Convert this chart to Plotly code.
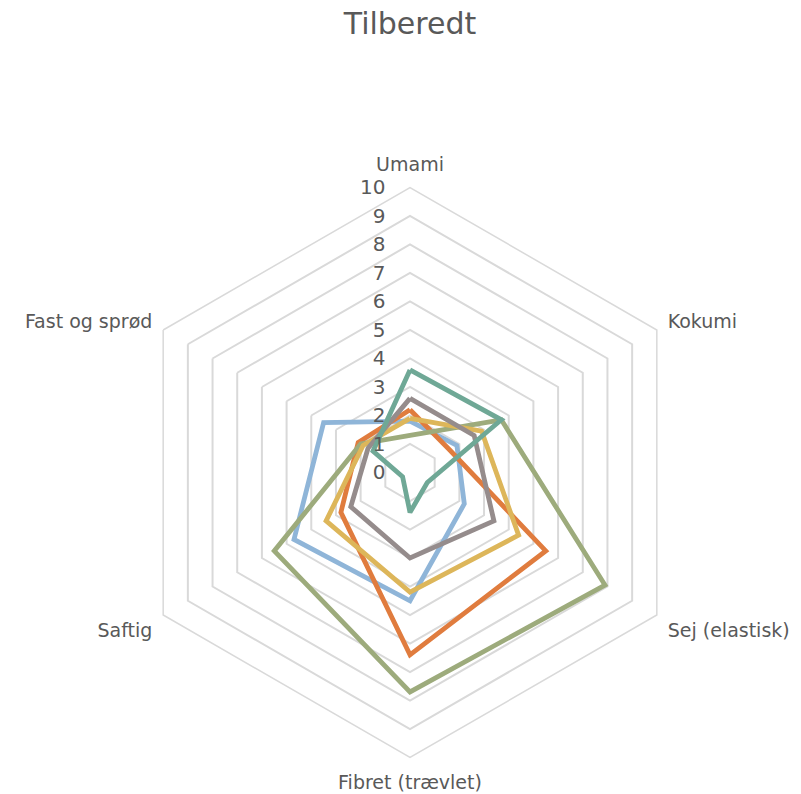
import plotly.graph_objects as go

categories = ["Umami", "Kokumi", "Sej (elastisk)", "Fibret (trævlet)", "Saftig", "Fast og sprød"]
radial_ticks = [0, 1, 2, 3, 4, 5, 6, 7, 8, 9, 10]

series_names = ["Serie 1", "Serie 2", "Serie 3", "Serie 4", "Serie 5", "Serie 6"]
blue = [1.8, 1.9, 2.2, 4.5, 4.7, 3.5]
orange = [2.2, 1.6, 5.5, 6.4, 2.8, 2.1]
olive = [1.3, 3.7, 7.9, 7.7, 5.5, 2.0]
yellow = [1.9, 2.9, 4.4, 4.2, 3.4, 1.9]
gray = [2.6, 2.6, 3.4, 3.0, 2.4, 1.7]
teal = [3.6, 3.7, 0.7, 1.4, 0.3, 1.5]

series_values = [blue, orange, olive, yellow, gray, teal]
colors = ["#8FB5D8", "#E07C3E", "#9DAB7C", "#DDB65A", "#958C8C", "#6FA896"]

fig = go.Figure()
for name, vals, col in zip(series_names, series_values, colors):
    fig.add_trace(go.Scatterpolar(
        r=vals + [vals[0]],
        theta=categories + [categories[0]],
        mode="lines",
        name=name,
        line=dict(color=col, width=4.8),
        showlegend=False,
    ))

W, H = 801, 794
cx, cy, R = 410, 472.5, 285
fig.update_layout(
    width=W, height=H,
    margin=dict(l=0, r=0, t=0, b=0),
    paper_bgcolor="white",
    font=dict(family="DejaVu Sans", color="#595959", size=18),
    title=dict(text="Tilberedt", x=410 / W, xanchor="center", y=1 - 23 / H, yanchor="middle",
               font=dict(size=30, color="#595959")),
    polar=dict(
        domain=dict(x=[(cx - R) / W, (cx + R) / W], y=[(H - cy - R) / H, (H - cy + R) / H]),
        bgcolor="white",
        gridshape="linear",
        angularaxis=dict(
            rotation=90, direction="clockwise",
            showgrid=False, showline=True, linecolor="#D9D9D9", linewidth=1.5,
            ticks="outside", ticklen=8, tickcolor="rgba(0,0,0,0)",
            tickfont=dict(size=19, color="#595959"),
        ),
        radialaxis=dict(
            range=[0, 10], tickvals=radial_ticks, ticktext=[str(v) for v in radial_ticks],
            angle=90, tickangle=90, side="counterclockwise",
            showline=False, gridcolor="#D9D9D9", gridwidth=1.5,
            ticks="outside", ticklen=17, tickcolor="rgba(0,0,0,0)",
            tickfont=dict(size=20, color="#595959"),
        ),
    ),
)

fig.write_html("out.html", config={"displayModeBar": False},
               post_script="document.body.style.margin='0';")
